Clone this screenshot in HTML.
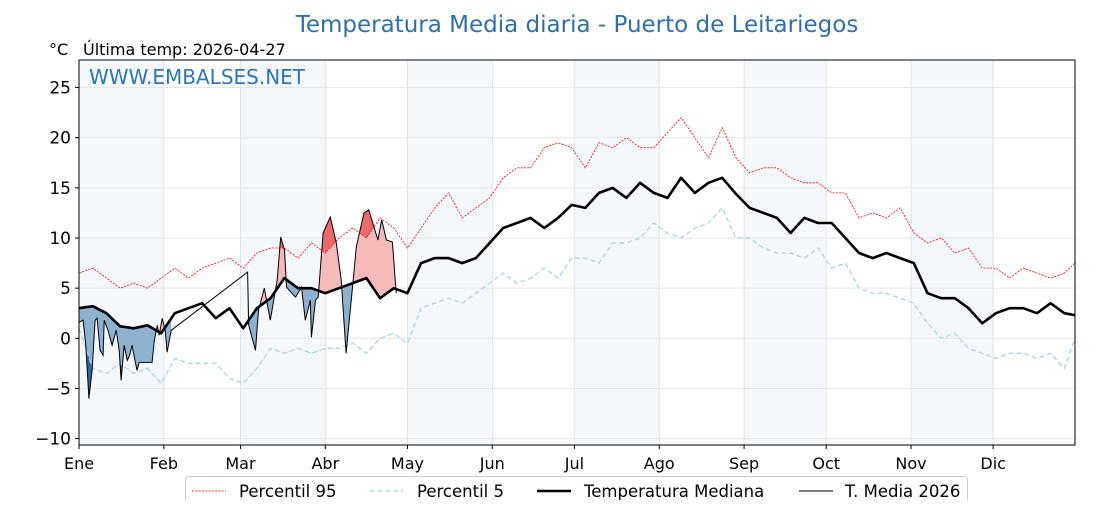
<!DOCTYPE html>
<html><head><meta charset="utf-8"><style>
body{margin:0;background:#fff;font-family:"Liberation Sans","DejaVu Sans",sans-serif}
</style></head><body>
<svg id="c" width="1120" height="500" xmlns="http://www.w3.org/2000/svg" style="font-family:'DejaVu Sans','Liberation Sans',sans-serif">
<text x="577" y="32" text-anchor="middle" font-size="23" fill="#2f70a8">Temperatura Media diaria - Puerto de Leitariegos</text>
<text x="49" y="55" font-size="16">°C</text>
<text x="83" y="55" font-size="16">Última temp: 2026-04-27</text>
<g id="plot"></g>
</svg>
<script>
const months=['Ene','Feb','Mar','Abr','May','Jun','Jul','Ago','Sep','Oct','Nov','Dic'];
const monthStart=[0,31,59,90,120,151,181,212,243,273,304,334];
const yTicks=[25,20,15,10,5,0,-5,-10];
const dDays=[0,5,10,15,20,25,30,35,40,45,50,55,60,65,70,75,80,85,90,95,100,105,110,115,120,125,130,135,140,145,150,155,160,165,170,175,180,185,190,195,200,205,210,215,220,225,230,235,240,245,250,255,260,265,270,275,280,285,290,295,300,305,310,315,320,325,330,335,340,345,350,355,360,364];
const median=[3,3.2,2.5,1.2,1,1.3,0.5,2.5,3,3.5,2,3,1,3,4,6,5,5,4.5,5,5.5,6,4,5,4.5,7.5,8,8,7.5,8,9.5,11,11.5,12,11,12,13.3,13,14.5,15,14,15.5,14.5,14,16,14.5,15.5,16,14.4,13,12.5,12,10.5,12,11.5,11.5,10,8.5,8,8.5,8,7.5,4.5,4,4,3,1.5,2.5,3,3,2.5,3.5,2.5,2.3];
const p95=[6.5,7,6,5,5.5,5,6,7,6,7,7.5,8,7,8.5,9,9,8,9.5,8.5,10,11,10,12,11,9,11,13,14.5,12,13,14,16,17,17,19,19.5,19,17,19.5,19,20,19,19,20.5,22,20,18,21,18,16.5,17,17,16,15.5,15.5,14.5,14.5,12,12.5,12,13,10.5,9.5,10,8.5,9,7,7,6,7,6.5,6,6.5,7.5];
const p5=[1,-3,-3.5,-2.5,-3.5,-3,-4.5,-2,-2.5,-2.5,-2.5,-4,-4.5,-3,-1,-1.5,-1,-1.5,-1,-1,-0.5,-1.5,0,0.5,-0.5,3,3.5,4,3.5,4.5,5.5,6.5,5.5,6,7,6,8,8,7.5,9.5,9.5,10,11.5,10.5,10,11,11.5,13,10,10,9,8.5,8.5,8,9,7,7.5,5,4.5,4.5,4,3.5,1.5,0,0.5,-1,-1.5,-2,-1.5,-1.5,-2,-1.5,-3,0];
const t26DaysA=[0,1.5,2.5,3.6,4.8,5.9,6.6,7.7,8.8,9.2,10.6,12.1,13.6,14.7,15.4,16.5,17.6,18.5,19.4,20.1,21.2,22,22.7,26.7,27.5,28.6,29.3,30.4,31.5,32.2,33.7];
const t26ValsA=[1.6,1.8,-0.7,-6,-3.2,1.8,2,-1.2,-1.7,1.8,0.8,-0.7,0.8,-1.2,-4.2,-0.7,-2.2,-1.7,-0.7,-1.7,-3.2,-2.4,-2.4,-2.4,-0.2,1.3,0.3,2,0.8,-1.4,0.8];
const t26DaysB=[61.6,62,64.5,65.6,67.7,69.9,72.4,73.7,75.1,75.8,79.1,81.3,82.7,84.5,84.9,86.4,87.4,89.2,91.8,94,95.8,97.6,100.2,101.3,104.1,105.9,109.2,110.6,112.3,114.5,115.9];
const t26ValsB=[6.6,1.3,-1.2,2.8,5,1.8,5.8,10.1,8.8,5.1,4.1,5.1,1.8,3.8,0.1,3.8,4.1,10.5,12.1,9.5,5.8,-1.5,5.8,9.1,12.5,12.8,9.8,11.8,9.8,9.6,4.5];

const X0=79,X1=1075,Y0=60,Y1=445;
const xs=d=>X0+d*2.737;
const ys=v=>338.3-v*10.03;
const NS='http://www.w3.org/2000/svg';
const g=document.getElementById('plot');
function mk(tag,attrs,parent){const e=document.createElementNS(NS,tag);for(const k in attrs)e.setAttribute(k,attrs[k]);(parent||g).appendChild(e);return e;}
function interp(ds,vs,d){for(let i=0;i<ds.length-1;i++){if(d>=ds[i]&&d<=ds[i+1]){const f=(d-ds[i])/(ds[i+1]-ds[i]);return vs[i]+f*(vs[i+1]-vs[i]);}}return vs[vs.length-1];}
function pts(ds,vs){return ds.map((d,i)=>Math.min(xs(d),X1).toFixed(1)+','+ys(vs[i]).toFixed(1));}

monthStart.forEach((m,i)=>{
 if(i%2===0){const end=i+1<12?monthStart[i+1]:365;
  const r=mk('rect',{x:xs(m),y:Y0,width:Math.min(xs(end),X1)-xs(m),height:Y1-Y0,fill:'#f4f8fc'});
  
  }
});
yTicks.forEach(v=>{
 const l=mk('line',{x1:X0,x2:X1,y1:ys(v),y2:ys(v),stroke:'#e6e6e6','stroke-width':1});
 
 
});
monthStart.forEach(m=>{
 const l=mk('line',{x1:xs(m),x2:xs(m),y1:Y0,y2:Y1,stroke:'#dde3ea','stroke-width':1});
 
 
});
const defs=mk('defs',{});
function clip(id,ds,vs,above){
 const c=mk('clipPath',{id:id},defs);
 const edge=above?Y0-50:Y1+50;
 const p=pts(ds,vs);p.push(xs(ds[ds.length-1])+','+edge);p.unshift(xs(ds[0])+','+edge);
 mk('polygon',{points:p.join(' ')},c);
}
clip('aboveMed',dDays,median,true);clip('belowMed',dDays,median,false);
clip('aboveP95',dDays,p95,true);clip('belowP5',dDays,p5,false);
function band(ds,vs,refD,refV,fill,cl,name){
 const a=ds[0],b=ds[ds.length-1];
 const rd=[a].concat(refD.filter(d=>d>a&&d<b)).concat([b]);
 const rv=rd.map(d=>interp(refD,refV,d));
 const p=pts(ds,vs).concat(pts(rd,rv).reverse());
 const e=mk('polygon',{points:p.join(' '),fill:fill,'clip-path':'url(#'+cl+')'});
 
 
}
[[t26DaysA,t26ValsA],[t26DaysB,t26ValsB]].forEach(([ds,vs])=>{
 band(ds,vs,dDays,median,'#f5baba','aboveMed','above-median-fill');
 band(ds,vs,dDays,median,'#8fb1d0','belowMed','below-median-fill');
 band(ds,vs,dDays,p95,'#e86a6a','aboveP95','above-p95-fill');
 band(ds,vs,dDays,p5,'#2a689c','belowP5','below-p5-fill');
});
let e;
e=mk('polyline',{points:pts(dDays,p95).join(' '),fill:'none',stroke:'#ff0000','stroke-width':0.8,'stroke-dasharray':'2,1.3'});


e=mk('polyline',{points:pts(dDays,p5).join(' '),fill:'none',stroke:'#a8d5e3','stroke-width':1.3,'stroke-dasharray':'5,3'});


e=mk('polyline',{points:pts(dDays,median).join(' '),fill:'none',stroke:'#000','stroke-width':2.6,'stroke-linejoin':'round'});


e=mk('polyline',{points:pts(t26DaysA.concat(t26DaysB),t26ValsA.concat(t26ValsB)).join(' '),fill:'none',stroke:'#000','stroke-width':1});


e=mk('rect',{x:X0,y:Y0,width:X1-X0,height:Y1-Y0,fill:'none',stroke:'#000','stroke-width':1});


e=mk('text',{x:89,y:84,'font-size':20,fill:'#2e75b6'});e.textContent='WWW.EMBALSES.NET';


yTicks.forEach(v=>{
 mk('line',{x1:X0-4,x2:X0,y1:ys(v),y2:ys(v),stroke:'#000'});
 const t=mk('text',{x:X0-8,y:ys(v)+6,'font-size':17,'text-anchor':'end'});
 t.textContent=(v<0?'\u2212'+(-v):v);
 
 
});
months.forEach((m,i)=>{
 mk('line',{x1:xs(monthStart[i]),x2:xs(monthStart[i]),y1:Y1,y2:Y1+4,stroke:'#000'});
 const t=mk('text',{x:xs(monthStart[i]),y:469,'font-size':16,'text-anchor':'middle'});
 t.textContent=m;
 
 
});
e=mk('rect',{x:185.5,y:476.5,width:782,height:30,rx:3,fill:'#fff',stroke:'#ccc'});


const legItems=[['Percentil 95',192,239,{stroke:'#ff0000','stroke-width':0.8,'stroke-dasharray':'2,1.3'}],
['Percentil 5',369,417,{stroke:'#a8d5e3','stroke-width':1.3,'stroke-dasharray':'5,3'}],
['Temperatura Mediana',537,584,{stroke:'#000','stroke-width':2.6}],
['T. Media 2026',799,845,{stroke:'#000','stroke-width':1}]];
legItems.forEach(([lab,lx,tx,st])=>{
 const a=Object.assign({x1:lx,x2:lx+34,y1:491,y2:491},st);
 mk('line',a);
 const t=mk('text',{x:tx,y:497,'font-size':16.5});t.textContent=lab;
 
 
});
</script>
</body></html>
